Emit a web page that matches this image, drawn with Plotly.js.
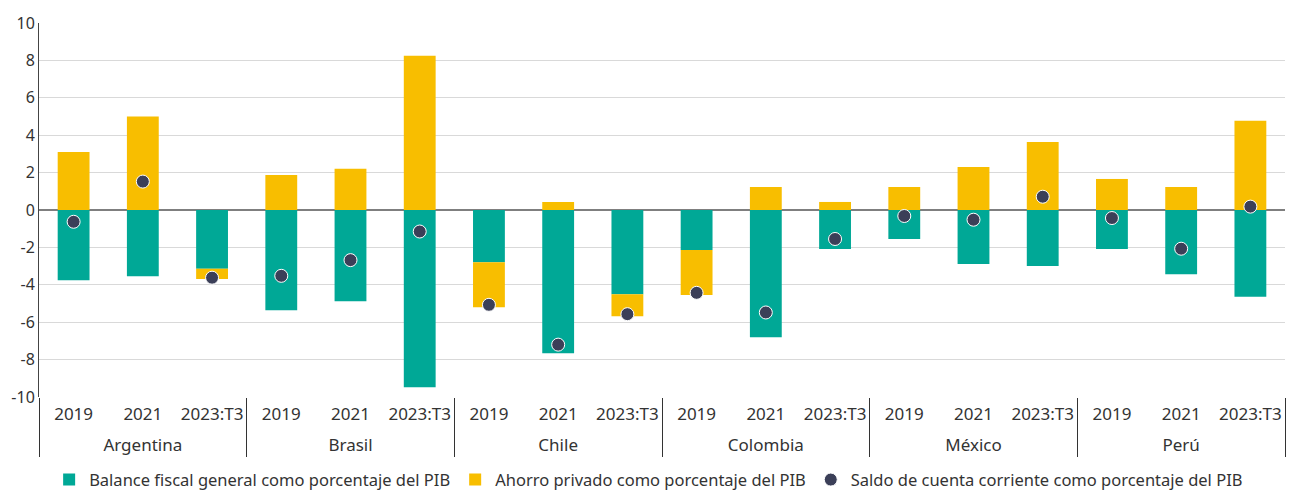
<!DOCTYPE html>
<html>
<head>
<meta charset="utf-8">
<script src="https://cdn.plot.ly/plotly-3.0.1.min.js"></script>
<style>html,body{margin:0;padding:0;background:#fff}#chart{width:1293px;height:495px}</style>
</head>
<body>
<div id="chart"></div>
<script>
const countries = ["Argentina","Argentina","Argentina","Brasil","Brasil","Brasil","Chile","Chile","Chile","Colombia","Colombia","Colombia","México","México","México","Perú","Perú","Perú"];
const periods = ["2019","2021","2023:T3","2019","2021","2023:T3","2019","2021","2023:T3","2019","2021","2023:T3","2019","2021","2023:T3","2019","2021","2023:T3"];
const fiscalBalance = [-3.75,-3.54,-3.14,-5.36,-4.88,-9.48,-2.79,-7.66,-4.5,-2.14,-6.8,-2.09,-1.55,-2.89,-3.0,-2.09,-3.43,-4.64];
const privateSaving = [3.1,5.0,-0.55,1.87,2.2,8.25,-2.41,0.43,-1.18,-2.41,1.23,0.43,1.23,2.3,3.64,1.66,1.23,4.77];
const currentAccount = [-0.63,1.52,-3.62,-3.52,-2.68,-1.15,-5.07,-7.2,-5.57,-4.43,-5.48,-1.55,-0.32,-0.52,0.71,-0.43,-2.07,0.18];
const seriesNames = ["Balance fiscal general como porcentaje del PIB","Ahorro privado como porcentaje del PIB","Saldo de cuenta corriente como porcentaje del PIB"];
const yTicks = [-10,-8,-6,-4,-2,0,2,4,6,8,10];

// invisible tall spacer so the country row sits lower under the period row
const pad = "<span style='font-size:25px'>&nbsp;</span>";
const x = [countries, periods.map(p => pad + p + pad)];
const font = "Noto Sans, sans-serif";
const data = [
  {type:"bar", name:seriesNames[0], x:x, y:fiscalBalance, marker:{color:"#00A896"}},
  {type:"bar", name:seriesNames[1], x:x, y:privateSaving, marker:{color:"#F8BE00"}},
  {type:"scatter", mode:"markers", name:seriesNames[2], x:x, y:currentAccount,
   marker:{color:"#3B3F58", size:13, line:{color:"#ffffff", width:1}}}
];
const layout = {
  width:1293, height:495,
  margin:{l:39, r:8, t:23, b:98},
  barmode:"relative", bargap:0.54,
  paper_bgcolor:"#fff", plot_bgcolor:"#fff",
  font:{family:font, size:16, color:"#333"},
  showlegend:true,
  legend:{orientation:"h", xref:"container", yref:"container", x:0.038, y:0.066,
          xanchor:"left", yanchor:"top",
          font:{family:font, size:16.5, color:"#333"}, itemwidth:20},
  xaxis:{type:"multicategory", range:[-0.5, 17.5], showgrid:false, zeroline:false, showline:false,
         showdividers:true, dividercolor:"#333", dividerwidth:1, automargin:false,
         ticklabelstandoff:5,
         tickangle:0, tickfont:{family:font, size:17, color:"#333"}, ticks:""},
  yaxis:{range:[-10,10], tickvals:yTicks, ticktext:yTicks.map(String), automargin:false,
         showgrid:true, gridcolor:"#d9d9d9", gridwidth:1,
         zeroline:true, zerolinecolor:"#7f7f7f", zerolinewidth:2,
         showline:true, linecolor:"#444", linewidth:1, ticklabelstandoff:0,
         tickfont:{family:font, size:16, color:"#333"}, ticks:"", fixedrange:true}
};
Plotly.newPlot("chart", data, layout, {displayModeBar:false, staticPlot:true});
</script>
</body>
</html>
